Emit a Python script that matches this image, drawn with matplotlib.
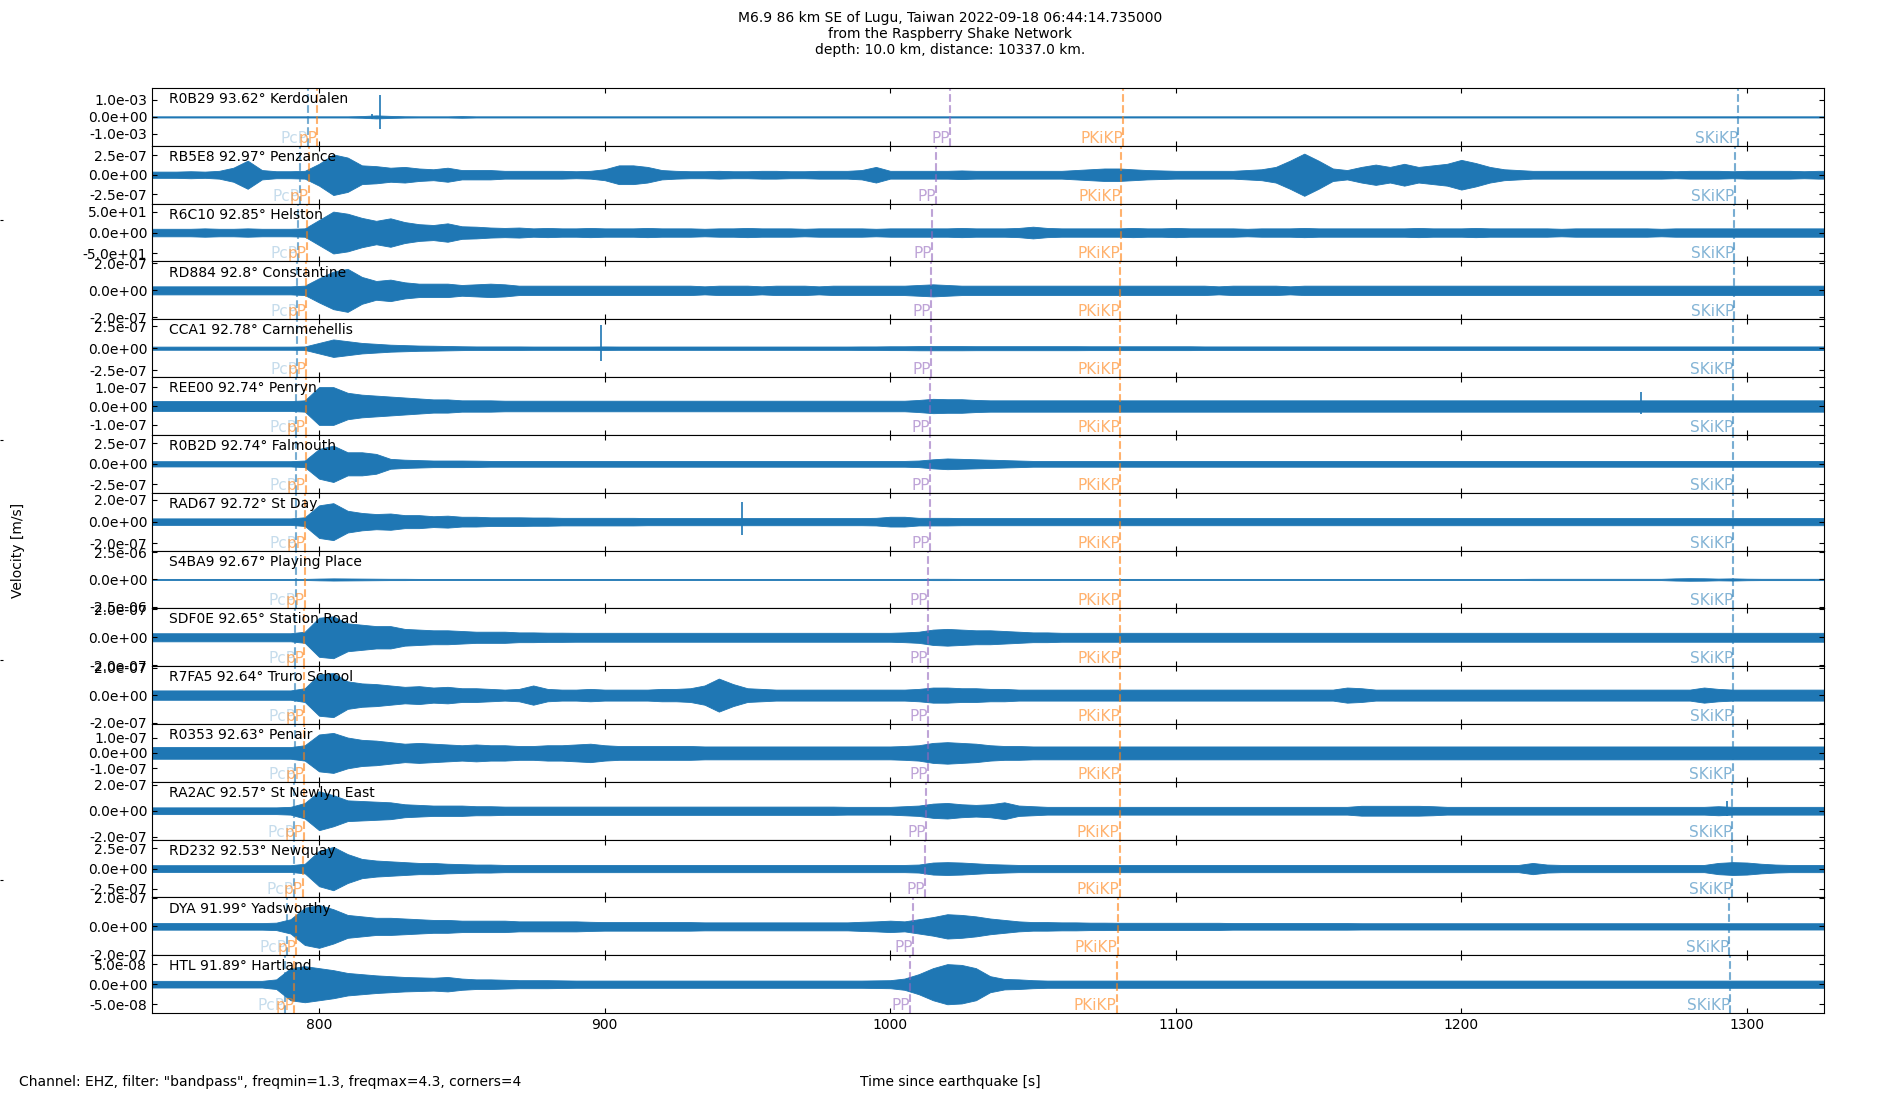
import numpy as np
import matplotlib
matplotlib.use('Agg')
import matplotlib.pyplot as plt
from matplotlib.ticker import FormatStrFormatter

# stations, top to bottom
stations = ['R0B29 93.62° Kerdoualen', 'RB5E8 92.97° Penzance', 'R6C10 92.85° Helston',
            'RD884 92.8° Constantine', 'CCA1 92.78° Carnmenellis', 'REE00 92.74° Penryn',
            'R0B2D 92.74° Falmouth', 'RAD67 92.72° St Day', 'S4BA9 92.67° Playing Place',
            'SDF0E 92.65° Station Road', 'R7FA5 92.64° Truro School', 'R0353 92.63° Penair',
            'RA2AC 92.57° St Newlyn East', 'RD232 92.53° Newquay', 'DYA 91.99° Yadsworthy',
            'HTL 91.89° Hartland']

tick_val = [1.0e-3, 2.5e-7, 50, 2.0e-7, 2.5e-7, 1.0e-7, 2.5e-7, 2.0e-7,
            2.5e-6, 2.0e-7, 2.0e-7, 1.0e-7, 2.0e-7, 2.5e-7, 2.0e-7, 5.0e-8]
y_lim = [1.7e-3, 3.7e-7, 69, 2.15e-7, 3.3e-7, 1.53e-7, 3.5e-7, 2.66e-7,
         2.64e-6, 2.07e-7, 2.1e-7, 1.88e-7, 2.23e-7, 3.6e-7, 2.02e-7, 7.2e-8]
# amplitude unit of each envelope list
unit = [1e-4, 1e-8, 1.0, 1e-8, 1e-8, 1e-8, 1e-8, 1e-8,
        1e-7, 1e-8, 1e-8, 1e-8, 1e-8, 1e-8, 1e-8, 1e-9]

# phase arrival times [s]
t_PcP = [796.1, 793.2, 792.6, 792.4, 792.3, 792.1, 792.1, 792.0, 791.8, 791.7, 791.7, 791.6, 791.4, 791.2, 788.6, 788.0]
t_pP = [799.4, 796.5, 795.8, 795.6, 795.5, 795.3, 795.3, 795.2, 795.0, 794.9, 794.9, 794.8, 794.6, 794.4, 792.0, 791.4]
t_PP = [1020.9, 1015.9, 1014.8, 1014.4, 1014.3, 1013.9, 1013.9, 1013.8, 1013.4, 1013.3, 1013.2, 1013.1, 1012.7, 1012.3, 1008.1, 1007.0]
t_PKiKP = [1081.6, 1080.8, 1080.7, 1080.6, 1080.6, 1080.5, 1080.5, 1080.5, 1080.4, 1080.4, 1080.4, 1080.4, 1080.3, 1080.3, 1079.6, 1079.3]
t_SKiKP = [1297.0, 1295.7, 1295.5, 1295.4, 1295.3, 1295.3, 1295.3, 1295.2, 1295.1, 1295.1, 1295.1, 1295.0, 1294.9, 1294.8, 1293.8, 1294.2]

# trace envelopes read every 5 s, 740 ... 1330 s
env_t = np.arange(740, 1331, 5)

env_R0B29 = [0.35,
    0.35, 0.35, 0.35, 0.35, 0.35, 0.35, 0.35, 0.35, 0.35, 0.35, 0.35, 0.35,
    0.35, 0.35, 0.5, 0.9, 0.6, 0.4, 0.35, 0.35, 0.35, 0.5, 0.35, 0.35,
    0.35, 0.35, 0.35, 0.35, 0.35, 0.35, 0.35, 0.35, 0.35, 0.35, 0.35, 0.35,
    0.35, 0.35, 0.35, 0.35, 0.35, 0.35, 0.35, 0.35, 0.35, 0.35, 0.35, 0.35,
    0.35, 0.35, 0.35, 0.35, 0.35, 0.35, 0.35, 0.35, 0.35, 0.35, 0.35, 0.35,
    0.35, 0.35, 0.35, 0.35, 0.35, 0.35, 0.35, 0.35, 0.35, 0.35, 0.35, 0.35,
    0.35, 0.35, 0.35, 0.35, 0.35, 0.35, 0.35, 0.35, 0.35, 0.35, 0.35, 0.35,
    0.35, 0.35, 0.35, 0.35, 0.35, 0.35, 0.35, 0.35, 0.35, 0.35, 0.35, 0.35,
    0.35, 0.35, 0.35, 0.35, 0.35, 0.35, 0.35, 0.35, 0.35, 0.35, 0.35, 0.35,
    0.35, 0.35, 0.35, 0.35, 0.35, 0.35, 0.35, 0.35, 0.35,
    0.35]
env_RB5E8 = [4,
    4, 4, 4.5, 4, 5, 9, 18, 6, 4.5, 4.5, 5, 14,
    26, 22, 12, 11, 9, 10, 8, 7, 9, 6, 6, 6,
    5, 5, 5, 5, 5, 4.5, 5, 7, 12, 12, 10, 6,
    5, 4.5, 4.5, 5, 4.5, 4.5, 5, 5, 4.5, 4.5, 5, 5,
    5, 6, 10, 5, 5, 5, 5, 5, 5.5, 5, 5, 5,
    5, 5, 5, 5, 6, 7, 8, 8, 7, 6, 5.5, 5,
    5, 5, 5, 5, 6, 7, 10, 18, 27, 18, 8, 6,
    10, 13, 10, 14, 10, 12, 14, 19, 15, 10, 7, 6,
    5, 5, 5, 5, 5, 5, 5, 5, 5, 5, 4.5, 5,
    5, 5, 4.5, 5, 5, 5, 5, 4.5, 5,
    5]
env_R6C10 = [9,
    9, 9, 9, 10, 9, 9, 10, 9, 9, 9, 10, 30,
    50, 45, 35, 28, 34, 25, 20, 18, 22, 15, 14, 12,
    11, 12, 10, 11, 10, 10, 11, 10, 10, 10, 11, 10,
    10, 10, 9, 10, 10, 11, 10, 10, 10, 9, 10, 10,
    10, 10, 9, 10, 10, 10, 10, 10, 11, 10, 10, 10,
    11, 14, 11, 10, 10, 10, 10, 10, 11, 10, 10, 11,
    10, 10, 10, 10, 9, 10, 10, 10, 11, 10, 10, 10,
    10, 10, 10, 10, 11, 10, 10, 10, 11, 10, 10, 10,
    10, 10, 9, 10, 10, 10, 10, 10, 10, 9, 10, 10,
    10, 10, 10, 10, 10, 10, 10, 10, 10,
    10]
env_RD884 = [3,
    3, 3, 3, 3, 3, 3, 3, 3, 3, 3, 3.5, 9,
    14, 16, 10, 7, 8, 6, 5, 5, 5, 4, 4.5, 5,
    4.5, 3.5, 3.5, 3.5, 3.5, 3.5, 3.5, 3.5, 3.5, 3.5, 3.5, 3.5,
    3.5, 3.5, 3, 3.5, 3.5, 3.5, 3, 3.5, 3.5, 3.5, 3, 3.5,
    3.5, 3.5, 3.5, 3.5, 3.5, 4, 4.5, 4, 3.5, 3.5, 3.5, 3.5,
    3.5, 3.5, 3.5, 3.5, 3.5, 3.5, 3.5, 3.5, 3.5, 3.5, 3.5, 3.5,
    3.5, 3.5, 3, 3.5, 3.5, 3.5, 3.5, 3, 3.5, 3.5, 3.5, 3.5,
    3.5, 3.5, 3.5, 3.5, 3.5, 3.5, 3.5, 3.5, 3.5, 3.5, 3.5, 3.5,
    3.5, 3.5, 3.5, 3.5, 3.5, 3.5, 3.5, 3.5, 3.5, 3.5, 3.5, 3.5,
    3.5, 3.5, 3.5, 3.5, 3.5, 3.5, 3.5, 3.5, 3.5,
    3.5]
env_CCA1 = [1.8,
    1.8, 1.8, 1.8, 1.8, 1.8, 1.8, 1.8, 1.8, 1.8, 1.8, 2, 6,
    10, 8, 6, 5, 4, 3.5, 3, 2.8, 2.5, 2.2, 2, 2,
    2, 2, 1.9, 1.9, 1.9, 1.9, 1.9, 2, 1.9, 1.9, 1.9, 1.9,
    1.9, 1.9, 1.9, 1.9, 1.9, 1.9, 1.9, 1.9, 1.9, 1.9, 1.9, 1.9,
    1.9, 2, 2, 2.2, 2.2, 2.4, 2.4, 2.4, 2.4, 2.3, 2.3, 2.3,
    2.3, 2.3, 2.3, 2.3, 2.3, 2.2, 2.2, 2.2, 2.2, 2.2, 2.2, 2.2,
    2.2, 2, 2, 2, 2, 2, 2, 2, 2, 2, 2, 2,
    2, 2, 2, 2, 2, 2, 2, 2, 2, 2, 2, 2,
    2, 2, 2, 2, 2, 2, 2, 2, 2, 2, 2, 2,
    2, 2, 2, 2, 2, 2, 2, 2, 2,
    2]
env_REE00 = [2.6,
    2.6, 2.6, 2.6, 2.6, 2.6, 2.6, 2.6, 2.6, 2.6, 2.6, 3, 10,
    10, 7, 6, 5.5, 5, 4.5, 4, 3.5, 3.5, 3, 3, 3,
    2.8, 2.8, 2.8, 2.8, 2.8, 2.8, 2.8, 2.8, 2.8, 2.8, 2.8, 2.8,
    2.8, 2.8, 2.8, 2.8, 2.8, 2.8, 2.8, 2.8, 2.8, 2.8, 2.8, 2.8,
    2.8, 2.8, 2.8, 2.8, 2.8, 3.2, 3.8, 3.6, 3.6, 3.2, 3, 3,
    3, 3, 3, 3, 3, 3, 3, 3, 3, 3, 3, 3,
    3, 3, 3, 3, 3, 3, 3, 3, 3, 3, 3, 3,
    3, 3, 3, 3, 3, 3, 3, 3, 3, 3, 3, 3,
    3, 3, 3, 3, 3, 3, 3, 3, 3, 3, 3, 3,
    3, 3, 3, 3, 3, 3, 3, 3, 3,
    3]
env_R0B2D = [3.2,
    3.2, 3.2, 3.2, 3.2, 3.2, 3.2, 3.2, 3.2, 3.2, 3.2, 4, 18,
    22, 14, 14, 12, 6, 5, 4.5, 4, 4, 4, 3.8, 3.5,
    3.5, 3.5, 3.5, 3.5, 3.5, 3.5, 3.5, 3.5, 3.5, 3.5, 3.5, 3.5,
    3.5, 3.5, 3.5, 3.5, 3.5, 3.5, 3.5, 3.5, 3.5, 3.5, 3.5, 3.5,
    3.5, 3.5, 3.5, 3.5, 3.5, 4, 5.5, 6.5, 6, 5.5, 5, 4.5,
    4, 3.5, 3.5, 3.5, 3.5, 3.5, 3.5, 3.5, 3.5, 3.5, 3.5, 3.5,
    3.5, 3.5, 3.5, 3.5, 3.5, 3.5, 3.5, 3.5, 3.5, 3.5, 3.5, 3.5,
    3.5, 3.5, 3.5, 3.5, 3.5, 3.5, 3.5, 3.5, 3.5, 3.5, 3.5, 3.5,
    3.5, 3.5, 3.5, 3.5, 3.5, 3.5, 3.5, 3.5, 3.5, 3.5, 3.5, 3.5,
    3.5, 3.5, 3.5, 3.5, 3.5, 3.5, 3.5, 3.5, 3.5,
    3.5]
env_RAD67 = [3,
    3, 3, 3, 3, 3, 3, 3, 3, 3, 3, 4, 15,
    17, 10, 8, 7, 7.5, 6, 6, 5, 5.5, 4.5, 4.5, 4,
    4, 4, 3.8, 3.8, 3.5, 3.5, 3.5, 3.5, 3.5, 3.5, 3.3, 3.3,
    3.3, 3.3, 3.3, 3.3, 3.3, 3.3, 3.3, 3.3, 3.3, 3.3, 3.3, 3.3,
    3.3, 3.3, 3.5, 4.5, 4.5, 3.5, 3.5, 3.5, 3.3, 3.3, 3.3, 3.3,
    3.3, 3.3, 3.3, 3.3, 3.3, 3.3, 3.3, 3.3, 3.3, 3.3, 3.3, 3.3,
    3.3, 3.3, 3.3, 3.3, 3.3, 3.3, 3.3, 3.3, 3.3, 3.3, 3.3, 3.3,
    3.3, 3.3, 3.3, 3.3, 3.3, 3.3, 3.3, 3.3, 3.3, 3.3, 3.3, 3.3,
    3.3, 3.3, 3.3, 3.3, 3.3, 3.3, 3.3, 3.3, 3.3, 3.3, 3.3, 3.3,
    3.3, 3.3, 3.3, 3.3, 3.3, 3.3, 3.3, 3.3, 3.3,
    3.3]
env_S4BA9 = [0.5,
    0.5, 0.5, 0.5, 0.5, 0.5, 0.5, 0.5, 0.5, 0.5, 0.5, 0.5, 0.8,
    1.0, 0.9, 0.8, 0.7, 0.6, 0.6, 0.5, 0.5, 0.5, 0.5, 0.5, 0.5,
    0.5, 0.5, 0.5, 0.5, 0.5, 0.5, 0.5, 0.5, 0.5, 0.5, 0.5, 0.5,
    0.5, 0.5, 0.5, 0.5, 0.5, 0.5, 0.5, 0.5, 0.5, 0.5, 0.5, 0.5,
    0.5, 0.5, 0.5, 0.5, 0.5, 0.5, 0.6, 0.6, 0.5, 0.5, 0.5, 0.5,
    0.5, 0.5, 0.5, 0.5, 0.5, 0.5, 0.5, 0.5, 0.5, 0.5, 0.5, 0.5,
    0.5, 0.5, 0.5, 0.5, 0.5, 0.5, 0.5, 0.5, 0.5, 0.5, 0.5, 0.5,
    0.5, 0.5, 0.5, 0.5, 0.5, 0.5, 0.5, 0.5, 0.5, 0.5, 0.5, 0.5,
    0.6, 0.6, 0.6, 0.6, 0.6, 0.6, 0.6, 0.6, 0.6, 0.6, 1.0, 1.2,
    1.1, 0.8, 1.0, 0.7, 0.6, 0.6, 0.6, 0.6, 0.6,
    0.6]
env_SDF0E = [2.9,
    2.9, 2.9, 2.9, 2.9, 2.9, 2.9, 2.9, 2.9, 2.9, 2.9, 4, 14,
    15, 10, 9, 8, 8, 6, 5.5, 5, 5, 4.5, 4, 4,
    4, 3.5, 3.5, 3.3, 3.3, 3.2, 3.2, 3.2, 3.2, 3.2, 3.2, 3.2,
    3.2, 3.2, 3.2, 3.2, 3.2, 3.2, 3.2, 3.2, 3.2, 3.2, 3.2, 3.2,
    3.2, 3.2, 3.2, 3.2, 3.5, 4, 5.5, 6, 5.5, 5, 5, 4.5,
    4, 3.5, 3.5, 3.2, 3.2, 3.2, 3.2, 3.2, 3.2, 3.2, 3.2, 3.2,
    3.2, 3.2, 3.2, 3.2, 3.2, 3.2, 3.2, 3.2, 3.2, 3.2, 3.2, 3.2,
    3.2, 3.2, 3.2, 3.2, 3.2, 3.2, 3.2, 3.2, 3.2, 3.2, 3.2, 3.2,
    3.2, 3.2, 3.2, 3.2, 3.2, 3.2, 3.2, 3.2, 3.2, 3.2, 3.2, 3.2,
    3.2, 3.2, 3.2, 3.2, 3.2, 3.2, 3.2, 3.2, 3.2,
    3.2]
env_R7FA5 = [3.4,
    3.4, 3.4, 3.4, 3.4, 3.4, 3.4, 3.4, 3.4, 3.4, 3.4, 5, 15,
    16, 10, 8.5, 8, 7, 6, 6.5, 5.5, 6, 5, 5, 4.5,
    4, 4.5, 7, 4.5, 4, 4, 4.5, 4, 4, 4, 4, 4.5,
    4.5, 5, 7, 12, 8, 5, 4.5, 4, 4, 4, 4, 4,
    4, 4, 4, 4, 4, 4.5, 5.5, 5.5, 5, 5, 4.5, 4.5,
    4, 4, 4, 4, 4, 4, 4, 4, 4, 4, 4, 4,
    4, 4, 4, 4, 4, 4, 4, 4, 4, 4, 4, 5.5,
    5, 4, 4, 4, 4, 4, 4, 4, 4, 4, 4, 4,
    4, 4, 4, 4, 4, 4, 4, 4, 4, 4, 4, 4,
    5.5, 4.5, 4, 4, 4, 4, 4, 4, 4,
    4]
env_R0353 = [3.8,
    3.8, 3.8, 3.8, 3.8, 3.8, 3.8, 3.8, 3.8, 3.8, 3.8, 5, 12,
    13, 10, 8.5, 8, 7, 6, 6.5, 6, 5.5, 5, 5.5, 5,
    5, 4.5, 4.5, 5, 5, 5.5, 6, 5, 4.5, 4.5, 4.5, 4.5,
    4.5, 4.5, 4.2, 4.2, 4.2, 4.2, 4.2, 4.2, 4.2, 4.2, 4.2, 4.2,
    4.2, 4.2, 4.2, 4.2, 4.5, 5, 6.5, 7, 6.5, 6, 5, 4.5,
    4.5, 4.2, 4.2, 4.2, 4.2, 4.2, 4.2, 4.2, 4.2, 4.2, 4.2, 4.2,
    4.2, 4.2, 4.2, 4.2, 4.2, 4.2, 4.2, 4.2, 4.2, 4.2, 4.2, 4.2,
    4.2, 4.2, 4.2, 4.2, 4.2, 4.2, 4.2, 4.2, 4.2, 4.2, 4.2, 4.2,
    4.2, 4.2, 4.2, 4.2, 4.2, 4.2, 4.2, 4.2, 4.2, 4.2, 4.2, 4.2,
    4.2, 4.2, 4.2, 4.2, 4.2, 4.2, 4.2, 4.2, 4.2,
    4.2]
env_RA2AC = [2.6,
    2.6, 2.6, 2.6, 2.6, 2.6, 2.6, 2.6, 2.6, 2.6, 3, 6, 15,
    12, 8, 7.5, 7, 6.5, 5, 4.5, 4, 4, 4, 3.5, 3.5,
    3.2, 3.2, 3.2, 3.2, 3.2, 3.2, 3.2, 3.2, 3.2, 3.2, 3.2, 3.2,
    3.2, 3.2, 3.2, 3.2, 3.2, 3.2, 3.2, 3.2, 3.2, 3.2, 3.2, 3.2,
    3, 3, 3, 3, 3.5, 4, 5.5, 6, 5, 4.5, 5, 6.5,
    4, 3.5, 3, 3, 3, 3, 3, 3, 3, 3, 3, 3,
    3, 3, 3, 3, 3, 3, 3, 3, 3, 3, 3, 3,
    3.8, 3.8, 3.8, 3.8, 3.8, 3.5, 3, 3, 3, 3, 3, 3,
    3, 3, 3, 3, 3, 3, 3, 3, 3, 3, 3, 3,
    3, 3.5, 3, 3, 3, 3, 3, 3, 3,
    3]
env_RD232 = [4.2,
    4.2, 4.2, 4.2, 4.2, 4.2, 4.2, 4.2, 4.2, 4.2, 4.2, 6, 22,
    27, 18, 12, 10, 9, 8, 7, 7, 6, 5.5, 5, 5,
    4.5, 4.5, 4.5, 4.5, 4.5, 4.5, 4.5, 4.5, 4.5, 4.5, 4.5, 4.5,
    4.5, 4.5, 4.5, 4.5, 4.5, 4.5, 4.5, 4.5, 4.5, 4.5, 4.5, 4.5,
    4.5, 4.5, 4.5, 4.5, 4.5, 5, 7.5, 8, 7.5, 6.5, 5.5, 5,
    4.5, 4.5, 4.5, 4.5, 4.5, 4.5, 4.5, 4.5, 4.5, 4.5, 4.5, 4.5,
    4.5, 4.5, 4.5, 4.5, 4.5, 4.5, 4.5, 4.5, 4.5, 4.5, 4.5, 4.5,
    4.5, 4.5, 4.5, 4.5, 4.5, 4.5, 4.5, 4.5, 4.5, 4.5, 4.5, 4.5,
    7, 5, 4.5, 4.5, 4.5, 4.5, 4.5, 4.5, 4.5, 4.5, 4.5, 4.5,
    4.5, 7, 8, 7.5, 6, 5, 4.5, 4.5, 4.5,
    4.5]
env_DYA = [2.3,
    2.3, 2.3, 2.3, 2.3, 2.3, 2.3, 2.3, 2.3, 2.6, 5, 13, 15,
    12, 8, 7, 6, 6, 5.5, 5, 4.5, 4.5, 4, 4, 4,
    4, 3.5, 3.5, 3.5, 3.5, 3.5, 3.2, 3, 3, 3, 3, 3,
    3, 3, 2.8, 2.8, 2.8, 2.8, 2.8, 2.8, 2.8, 2.8, 2.8, 2.8,
    2.8, 3.2, 3.5, 4, 3.5, 5, 6.5, 8.5, 8, 7, 5.5, 4.5,
    3.5, 3, 3, 2.8, 2.8, 2.6, 2.6, 2.5, 2.5, 2.5, 2.5, 2.5,
    2.5, 2.5, 2.5, 2.3, 2.3, 2.3, 2.3, 2.3, 2.3, 2.3, 2.3, 2.3,
    2.2, 2.2, 2.2, 2.2, 2.2, 2.2, 2.2, 2.2, 2.2, 2.2, 2.2, 2.2,
    2.2, 2.2, 2.2, 2.2, 2.2, 2.2, 2.2, 2.2, 2.2, 2.2, 2.2, 2.2,
    2.2, 2.2, 2.2, 2.2, 2.2, 2.2, 2.2, 2.2, 2.2,
    2.2]
env_HTL = [8.3,
    8.3, 8.3, 8.3, 8.3, 8.3, 8.3, 8.3, 8.3, 12, 40, 45, 40,
    35, 28, 25, 22, 20, 18, 17, 16, 18, 14, 12, 12,
    11, 10, 10, 10, 9.5, 9, 9, 9, 9, 9, 9, 9,
    9, 9, 9, 9, 9, 9, 9, 9, 9, 9, 9, 9,
    9, 9, 9.5, 10, 14, 25, 40, 50, 48, 40, 20, 13,
    12, 10, 9, 9, 9, 9, 9, 9, 9, 9, 9, 9,
    9, 9, 9, 9, 9, 9, 9, 9, 9, 9, 9, 9,
    9, 9, 9, 9, 9, 9, 9, 9, 9, 9, 9, 9,
    9, 9, 9, 9, 9, 9, 9, 9, 9, 9, 9, 9,
    9, 9, 9, 9, 9, 9, 9, 9, 9,
    9]

envelopes = [env_R0B29, env_RB5E8, env_R6C10, env_RD884, env_CCA1, env_REE00,
             env_R0B2D, env_RAD67, env_S4BA9, env_SDF0E, env_R7FA5, env_R0353,
             env_RA2AC, env_RD232, env_DYA, env_HTL]

# single sharp spikes: trace index -> (time, up, down) in the trace unit
spikes = {0: [(821.3, 13, 7.3), (818.7, 1.5, 1.5)],
          4: [(898.9, 26, 14.5)],
          5: [(1263.0, 7.4, 4.0)],
          7: [(948.0, 18, 12)],
          12: [(1293.0, 7.5, 4.0)]}

phase_names = ['PcP', 'pP', 'PP', 'PKiKP', 'SKiKP']
phase_times = [t_PcP, t_pP, t_PP, t_PKiKP, t_SKiKP]
phase_colors = ['C0', 'C1', 'C4', 'C1', 'C0']
phase_text_alpha = [0.25, 0.6, 0.6, 0.6, 0.55]

fig, axes = plt.subplots(16, 1, sharex=True, figsize=(19, 11), dpi=100)
fig.subplots_adjust(left=0.08, right=0.96, top=0.92, bottom=0.079, hspace=0)

for i, ax in enumerate(axes):
    u = unit[i]
    e = np.array(envelopes[i]) * u
    ax.fill_between(env_t, -e, e, color='C0', linewidth=0.6)
    for ts, up, dn in spikes.get(i, []):
        ax.vlines(ts, -dn * u, up * u, color='C0', linewidth=1.2)

    for name, times, c, ta in zip(phase_names, phase_times, phase_colors, phase_text_alpha):
        ax.axvline(times[i], color=c, linestyle='--', linewidth=1.5, alpha=0.6)
        ax.text(times[i], 0, name, color=c, alpha=ta, fontsize=11, ha='right', va='bottom',
                transform=ax.get_xaxis_transform())

    ax.text(0.01, 0.93, stations[i], transform=ax.transAxes, va='top', fontsize=10)
    ax.set_ylim(-y_lim[i], y_lim[i])
    ax.set_yticks([-tick_val[i], 0, tick_val[i]])
    ax.yaxis.set_major_formatter(FormatStrFormatter('%.1e'))
    ax.tick_params(direction='in', top=True, right=True)

axes[-1].set_xlim(741.5, 1327)
axes[-1].set_xticks([800, 900, 1000, 1100, 1200, 1300])

# faint marks of a full-figure helper axes at the left edge
bg = fig.add_axes([0, 0, 1, 1], frameon=False, zorder=-1)
bg.set_xticks([])
bg.set_yticks([0.2, 0.4, 0.6, 0.8])
bg.set_yticklabels([])
bg.tick_params(axis='y', direction='in', length=2)

fig.suptitle('M6.9 86 km SE of Lugu, Taiwan 2022-09-18 06:44:14.735000\n'
             'from the Raspberry Shake Network\n'
             'depth: 10.0 km, distance: 10337.0 km.', y=0.99, fontsize=10)
fig.text(0.006, 0.5, 'Velocity [m/s]', rotation=90, va='center', ha='left', fontsize=10)
fig.text(0.01, 0.01, 'Channel: EHZ, filter: "bandpass", freqmin=1.3, freqmax=4.3, corners=4',
         ha='left', va='bottom', fontsize=10)
fig.text(0.5, 0.01, 'Time since earthquake [s]', ha='center', va='bottom', fontsize=10)

plt.savefig('out.png', dpi=100)
